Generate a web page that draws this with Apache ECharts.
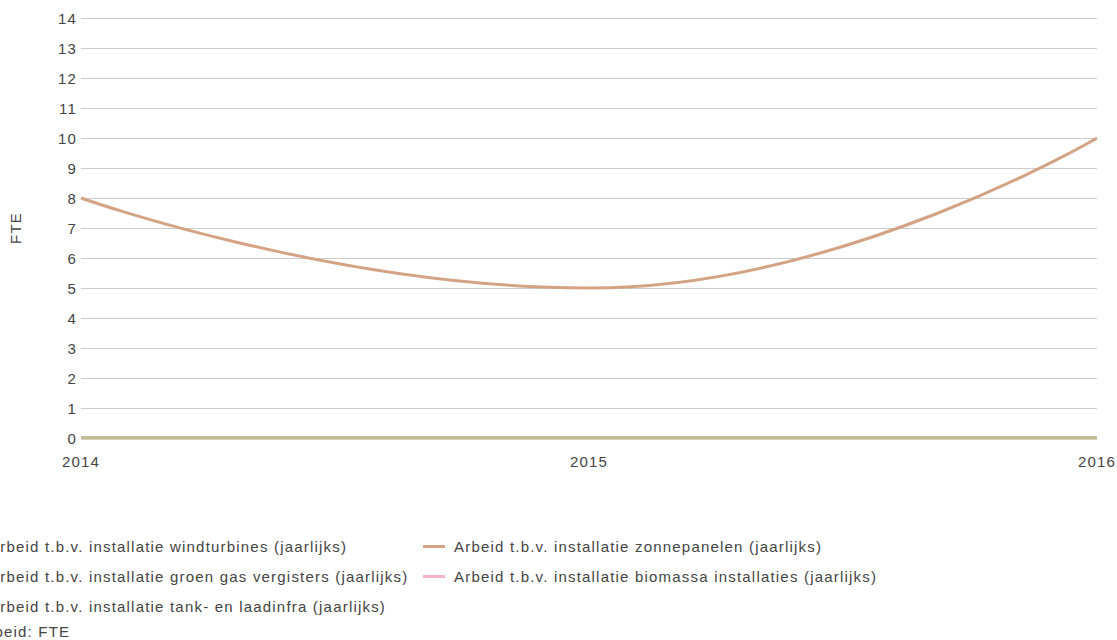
<!DOCTYPE html>
<html>
<head>
<meta charset="utf-8">
<script src="https://cdn.jsdelivr.net/npm/echarts@6/dist/echarts.min.js"></script>
<style>
html,body{margin:0;padding:0;background:#fff;}
#chart{width:1117px;height:640px;}
#chart text{letter-spacing:1.2px;}
</style>
</head>
<body>
<div id="chart"></div>
<script>
var years = ['2014', '2015', '2016'];
var windturbines = [0, 0, 0];
var zonnepanelen = [8, 5, 10];
var groenGas = [0, 0, 0];
var biomassa = [0, 0, 0];
var tankLaadinfra = [0, 0, 0];

var names = {
  wind: 'Arbeid t.b.v. installatie windturbines (jaarlijks)',
  zon: 'Arbeid t.b.v. installatie zonnepanelen (jaarlijks)',
  gas: 'Arbeid t.b.v. installatie groen gas vergisters (jaarlijks)',
  bio: 'Arbeid t.b.v. installatie biomassa installaties (jaarlijks)',
  tank: 'Arbeid t.b.v. installatie tank- en laadinfra (jaarlijks)'
};
var colors = {
  wind: '#a6bccb',
  zon: '#d4a384',
  gas: '#c4bd8e',
  bio: '#f4b3c9',
  tank: '#b9b8a6'
};
var font = "'Liberation Sans', Arial, sans-serif";
var txt = '#444';
var fs = 15;

function mk(key, data) {
  return {
    name: names[key], type: 'line', data: data,
    smooth: 0.5, smoothMonotone: 'x',
    symbol: 'none', showSymbol: false,
    lineStyle: { width: 3, color: colors[key] },
    itemStyle: { color: colors[key] },
    emphasis: { disabled: true },
    animation: false
  };
}

var chart = echarts.init(document.getElementById('chart'), null, { renderer: 'svg' });
chart.setOption({
  animation: false,
  textStyle: { fontFamily: font },
  grid: { left: 80, right: 20, top: 18, bottom: 202, containLabel: false },
  xAxis: {
    type: 'category', data: years, boundaryGap: false,
    axisLine: { show: false }, axisTick: { show: false },
    axisLabel: { color: txt, fontSize: fs, fontFamily: font, margin: 16 },
    splitLine: { show: false }
  },
  yAxis: {
    type: 'value', min: 0, max: 14, interval: 1,
    name: 'FTE', nameLocation: 'middle', nameGap: 58,
    nameTextStyle: { color: txt, fontSize: fs, fontFamily: font },
    axisLine: { show: false }, axisTick: { show: false },
    axisLabel: { color: txt, fontSize: fs, fontFamily: font, margin: 4 },
    splitLine: { lineStyle: { color: '#cccccc', width: 1 } }
  },
  legend: [
    {
      orient: 'vertical', left: -47, top: 534, itemGap: 15,
      itemWidth: 22, itemHeight: 3, icon: 'rect',
      textStyle: { color: txt, fontSize: fs, fontFamily: font, padding: [0, 0, 0, 4] },
      data: [names.wind, names.gas, names.tank]
    },
    {
      orient: 'vertical', left: 418, top: 534, itemGap: 15,
      itemWidth: 22, itemHeight: 3, icon: 'rect',
      textStyle: { color: txt, fontSize: fs, fontFamily: font, padding: [0, 0, 0, 4] },
      data: [names.zon, names.bio]
    }
  ],
  graphic: [
    {
      type: 'text', left: -23, top: 624,
      style: { text: 'Arbeid: FTE', fill: txt, font: fs + 'px ' + font }
    }
  ],
  series: [
    mk('zon', zonnepanelen),
    mk('bio', biomassa),
    mk('wind', windturbines),
    mk('tank', tankLaadinfra),
    mk('gas', groenGas)
  ]
});
</script>
</body>
</html>
